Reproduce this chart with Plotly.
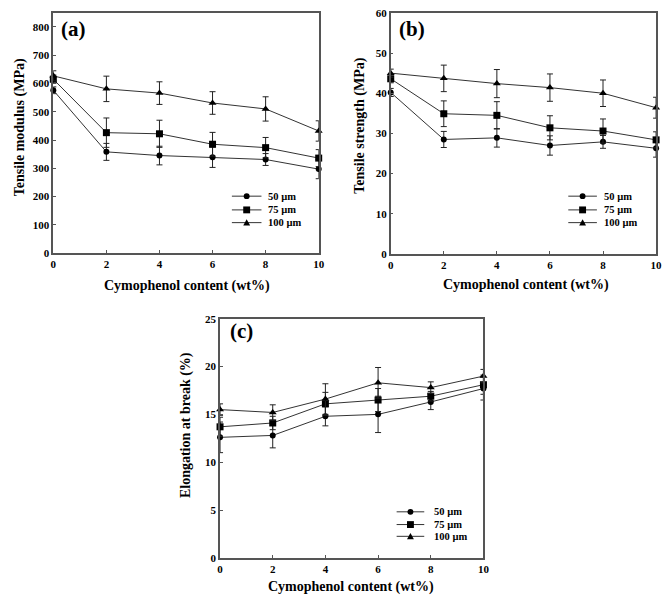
import plotly.graph_objects as go

content = [0, 2, 4, 6, 8, 10]
series_names = ["50 µm", "75 µm", "100 µm"]
symbols = ["circle", "square", "triangle-up"]
marker_sizes = [6, 7, 7]

# (a) Tensile modulus (MPa)
modulus = {
    "50 µm": [576, 358, 345, 339, 331, 297],
    "75 µm": [615, 426, 422, 385, 373, 336],
    "100 µm": [627, 581, 566, 531, 510, 432],
}
modulus_err = {
    "50 µm": [12, 30, 33, 36, 21, 34],
    "75 µm": [15, 52, 48, 42, 36, 30],
    "100 µm": [18, 45, 40, 40, 43, 36],
}

# (b) Tensile strength (MPa)
strength = {
    "50 µm": [40.2, 28.5, 28.9, 27.0, 27.9, 26.3],
    "75 µm": [43.6, 34.9, 34.5, 31.4, 30.6, 28.4],
    "100 µm": [45.0, 43.7, 42.4, 41.4, 40.0, 36.4],
}
strength_err = {
    "50 µm": [1.0, 2.0, 2.3, 2.4, 1.6, 2.2],
    "75 µm": [1.0, 3.2, 3.4, 3.0, 3.0, 2.0],
    "100 µm": [1.0, 3.3, 3.5, 3.4, 3.3, 2.6],
}

# (c) Elongation at break (%)
elongation = {
    "50 µm": [12.6, 12.8, 14.8, 15.0, 16.3, 17.7],
    "75 µm": [13.7, 14.1, 16.1, 16.5, 16.9, 18.1],
    "100 µm": [15.5, 15.2, 16.6, 18.3, 17.8, 19.0],
}
elongation_err = {
    "50 µm": [1.6, 1.3, 1.0, 1.9, 0.8, 1.2],
    "75 µm": [1.0, 0.7, 1.2, 1.2, 0.5, 1.0],
    "100 µm": [0.6, 0.8, 1.6, 1.6, 0.6, 0.7],
}

FONT = "Liberation Serif"
AX_COLOR = "#555555"
LINE_COLOR = "#333333"

fig = go.Figure()

panels = [
    ("x", "y", modulus, modulus_err),
    ("x2", "y2", strength, strength_err),
    ("x3", "y3", elongation, elongation_err),
]

for xa, ya, data, err in panels:
    for name, sym, ms in zip(series_names, symbols, marker_sizes):
        fig.add_trace(go.Scatter(
            x=content, y=data[name], name=name, xaxis=xa, yaxis=ya,
            mode="lines+markers", showlegend=False,
            line=dict(color=LINE_COLOR, width=1),
            marker=dict(symbol=sym, size=ms, color="black"),
            error_y=dict(type="data", array=err[name], color="#222222",
                         thickness=1, width=3),
            cliponaxis=False,
        ))


def xaxis_cfg(domain, anchor):
    return dict(domain=domain, anchor=anchor, range=[0, 10], tickvals=content,
                showline=True, mirror=True, linecolor=AX_COLOR, linewidth=1.5,
                ticks="inside", ticklen=3, tickcolor=AX_COLOR, showgrid=False,
                zeroline=False,
                tickfont=dict(family=FONT, size=11, color="black", weight="bold"))


def yaxis_cfg(domain, anchor, rng, dtick):
    return dict(domain=domain, anchor=anchor, range=rng, dtick=dtick,
                showline=True, mirror=True, linecolor=AX_COLOR, linewidth=1.5,
                ticks="inside", ticklen=3, tickcolor=AX_COLOR, showgrid=False,
                zeroline=False,
                tickfont=dict(family=FONT, size=11, color="black", weight="bold"))


W, H = 669, 608


def px(xp):
    return xp / W


def py(yp):
    return 1 - yp / H


fig.update_layout(
    width=W, height=H,
    margin=dict(l=0, r=0, t=0, b=0),
    paper_bgcolor="white", plot_bgcolor="white",
    showlegend=False,
    xaxis=xaxis_cfg([px(51), px(320)], "y"),
    yaxis=yaxis_cfg([py(252), py(7)], "x", [0, 850], 100),
    xaxis2=xaxis_cfg([px(393), px(662)], "y2"),
    yaxis2=yaxis_cfg([py(253), py(7)], "x2", [0, 60], 10),
    xaxis3=xaxis_cfg([px(220), px(487)], "y3"),
    yaxis3=yaxis_cfg([py(563), py(319)], "x3", [0, 25], 5),
)

title_font = dict(family=FONT, size=14, color="black", weight="bold")
label_font = dict(family=FONT, size=21, color="black", weight="bold")
legend_font = dict(family=FONT, size=10.5, color="black", weight="bold")

annotations = [
    dict(text="Cymophenol content (wt%)", x=px(187), y=py(286), font=title_font),
    dict(text="Tensile modulus (MPa)", x=px(17), y=py(124), textangle=-90, font=title_font),
    dict(text="Cymophenol content (wt%)", x=px(530), y=py(285), font=title_font),
    dict(text="Tensile strength (MPa)", x=px(361), y=py(122), textangle=-90, font=title_font),
    dict(text="Cymophenol content (wt%)", x=px(353), y=py(593), font=title_font),
    dict(text="Elongation at break (%)", x=px(185), y=py(428), textangle=-90, font=title_font),
    dict(text="(a)", x=px(71), y=py(23), font=label_font),
    dict(text="(b)", x=px(415), y=py(23), font=label_font),
    dict(text="(c)", x=px(242), y=py(332), font=label_font),
]
for a in annotations:
    a.update(xanchor="center", yanchor="middle")

# Hand-drawn legends (compact row spacing like the original)
legend_boxes = [
    (232, 262, 267, [194, 208, 221]),
    (573, 602, 607, [194, 208, 221]),
    (399, 427, 435, [516, 529, 541]),
]
shapes = []
for x0, x1, xt, rows in legend_boxes:
    xm = (x0 + x1) / 2
    for name, sym, yr in zip(series_names, symbols, rows):
        shapes.append(dict(type="line", x0=px(x0), x1=px(x1), y0=py(yr), y1=py(yr),
                           line=dict(color=LINE_COLOR, width=1)))
        if sym == "circle":
            r = 3
            shapes.append(dict(type="circle", x0=px(xm - r), x1=px(xm + r),
                               y0=py(yr + r), y1=py(yr - r),
                               fillcolor="black", line=dict(color="black", width=0)))
        elif sym == "square":
            r = 3.5
            shapes.append(dict(type="rect", x0=px(xm - r), x1=px(xm + r),
                               y0=py(yr + r), y1=py(yr - r),
                               fillcolor="black", line=dict(color="black", width=0)))
        else:
            r = 3.5
            path = "M {} {} L {} {} L {} {} Z".format(
                px(xm - r), py(yr + 3), px(xm + r), py(yr + 3), px(xm), py(yr - 3.5))
            shapes.append(dict(type="path", path=path, fillcolor="black",
                               line=dict(color="black", width=0)))
        annotations.append(dict(text=name, x=px(xt), y=py(yr), xanchor="left",
                                yanchor="middle", font=legend_font))

for a in annotations:
    a.update(xref="paper", yref="paper", showarrow=False)
for s in shapes:
    s.update(xref="paper", yref="paper")

fig.update_layout(annotations=annotations, shapes=shapes)

fig.write_html("out.html")
